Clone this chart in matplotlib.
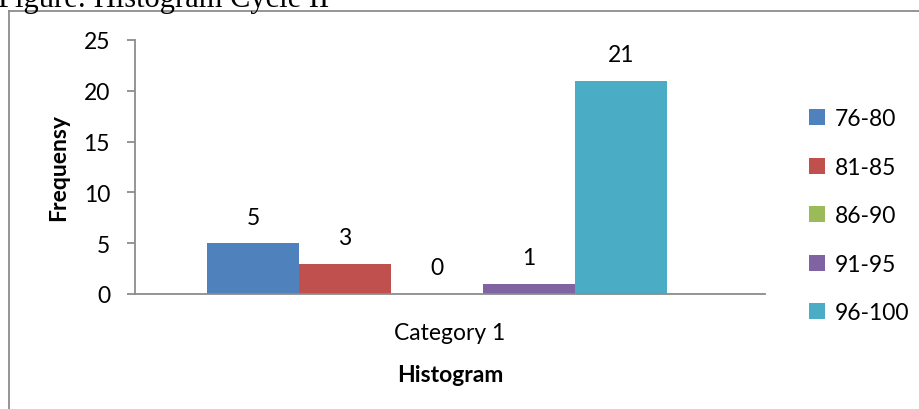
import numpy as np
import matplotlib.pyplot as plt
from matplotlib.lines import Line2D

# data
series = ['76-80', '81-85', '86-90', '91-95', '96-100']
values = [5, 3, 0, 1, 21]
colors = ['#4F81BD', '#C0504D', '#9BBB59', '#8064A2', '#4BACC6']
category = 'Category 1'
yticks = [0, 5, 10, 15, 20, 25]

W, H = 919, 410
fig = plt.figure(figsize=(W / 100, H / 100), dpi=100)
plt.rcParams['font.family'] = ['Lato', 'DejaVu Sans']
fs = 16.5

# axes box in pixels: x 135..765, y 41..295 (from top)
ax = fig.add_axes([135 / W, (H - 295) / H, (765 - 135) / W, (295 - 41) / H])

pos = np.arange(len(series)) - (len(series) - 1) / 2
for p, v, c, s in zip(pos, values, colors, series):
    ax.bar(p, v, width=1.0, color=c, label=s)
    ax.annotate(str(v), (p, v), xytext=(0, 26), textcoords='offset pixels',
                ha='center', va='center', fontsize=fs, color='black')

ax.set_ylim(0, 25)
xl, xr = -2.5 - 72 / 92, 2.5 + 98 / 92
ax.set_xlim(xl, xr)
ax.set_yticks(yticks)
ax.set_xticks([(xl + xr) / 2])
ax.set_xticklabels([category])

for side in ['top', 'right']:
    ax.spines[side].set_visible(False)
for side in ['left', 'bottom']:
    ax.spines[side].set_color('#8c8c8c')
    ax.spines[side].set_linewidth(1.3)
ax.tick_params(axis='y', length=6, width=1.3, color='#8c8c8c', labelsize=fs, pad=12)
ax.tick_params(axis='x', length=0, labelsize=fs, pad=20)

ax.set_ylabel('Frequensy', fontsize=fs, fontweight='bold', labelpad=10)
ax.set_xlabel('Histogram', fontsize=fs, fontweight='bold', labelpad=15)

leg = fig.legend(loc='upper left', bbox_to_anchor=(800 / W, (H - 100) / H),
                 frameon=False, fontsize=fs, handlelength=0.7, handleheight=0.7,
                 handletextpad=0.4, labelspacing=1.2, borderaxespad=0)

# outer frame (chart border, partly outside the image)
fig.add_artist(Line2D([9 / W, 9 / W], [0, (H - 12) / H], color='#8c8c8c', lw=1.3))
fig.add_artist(Line2D([9 / W, 1], [(H - 12) / H, (H - 12) / H], color='#8c8c8c', lw=1.3))

# clipped caption above the chart
fig.text(-2 / W, (H - 7) / H, 'Figure: Histogram Cycle II', family='Liberation Serif',
         fontsize=22, va='baseline', ha='left')

fig.savefig('out.png', dpi=100)
